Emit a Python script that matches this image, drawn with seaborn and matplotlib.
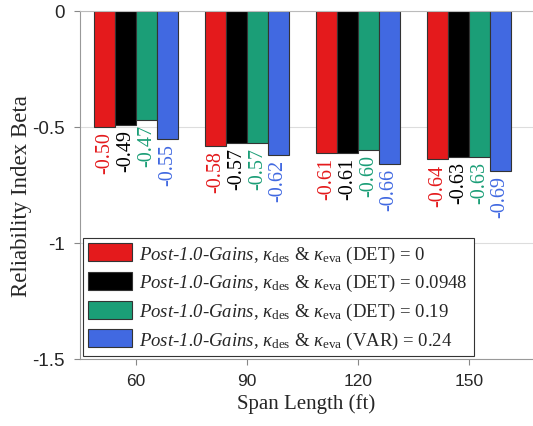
import matplotlib
matplotlib.use("Agg")
import matplotlib.pyplot as plt
import seaborn as sns
import pandas as pd

spans = ["60", "90", "120", "150"]
prefix = r"$\mathsf{Post}$-$\mathsf{1.0}$-$\mathsf{Gains}$, $\kappa_{\rm des}$ & $\kappa_{\rm eva}$ "
series = [
    prefix + "(DET) = 0",
    prefix + "(DET) = 0.0948",
    prefix + "(DET) = 0.19",
    prefix + "(VAR) = 0.24",
]
det0 = [-0.50, -0.58, -0.61, -0.64]
det0948 = [-0.49, -0.57, -0.61, -0.63]
det019 = [-0.47, -0.57, -0.60, -0.63]
var024 = [-0.55, -0.62, -0.66, -0.69]
colors = ["#E41A1C", "#000000", "#1B9E77", "#4169E1"]
yticks = [0, -0.5, -1, -1.5]
ytick_labels = ["0", "-0.5", "-1", "-1.5"]

rows = []
for name, vals in zip(series, [det0, det0948, det019, var024]):
    for s, v in zip(spans, vals):
        rows.append({"span": s, "beta": v, "series": name})
df = pd.DataFrame(rows)

sns.set_style("white")
plt.rcParams["mathtext.fontset"] = "custom"
plt.rcParams["mathtext.rm"] = "Liberation Serif"
plt.rcParams["mathtext.it"] = "Liberation Serif:italic"
plt.rcParams["mathtext.sf"] = "Liberation Serif:italic"
plt.rcParams["mathtext.bf"] = "Liberation Serif:bold"
plt.rcParams["font.family"] = ["Liberation Serif", "DejaVu Sans"]

fig = plt.figure(figsize=(5.33, 4.27), dpi=100)
ax = fig.add_axes([80 / 533, 1 - 360 / 427, 1 - 80 / 533, (360 - 12) / 427])

sns.barplot(data=df, x="span", y="beta", hue="series", order=spans,
            hue_order=series, palette=colors, width=0.75, saturation=1,
            edgecolor="#333333", linewidth=0.8, ax=ax, zorder=2)

for cont, col in zip(ax.containers, colors):
    ax.bar_label(cont, labels=[f"{v:.2f}" for v in cont.datavalues],
                 rotation=90, color=col, padding=3, fontsize=14.5,
                 family="Liberation Serif")

ax.set_ylim(-1.5, 0)
ax.set_xlim(-0.505, 3.577)
ax.set_yticks(yticks)
ax.set_yticklabels(ytick_labels, family="Liberation Sans", fontsize=13.5)
ax.set_xticks(range(len(spans)))
ax.set_xticklabels(spans, family="Liberation Sans", fontsize=12.5)
ax.yaxis.grid(True, color="#DDDDDD", lw=0.8, zorder=0)
ax.set_axisbelow(True)
ax.tick_params(axis="both", which="both", length=4, width=0.8, color="#888888",
               direction="out", bottom=True, left=True)
ax.tick_params(axis="y", pad=7)
ax.tick_params(axis="x", pad=6)
for side in ["left", "bottom", "top"]:
    ax.spines[side].set_visible(True)
    ax.spines[side].set_color("#999999")
    ax.spines[side].set_linewidth(0.8)
ax.spines["right"].set_visible(False)
ax.spines["top"].set_color("#BBBBBB")

ax.set_xlabel("Span Length (ft)", fontsize=15, family="Liberation Serif", labelpad=4)
ax.set_ylabel("Reliability Index Beta", fontsize=16.5, family="Liberation Serif")
ax.yaxis.set_label_coords(-0.106, 0.471)

leg = ax.legend(loc="lower left", bbox_to_anchor=(0, 0), borderaxespad=0.15,
                fontsize=13.5, frameon=True, fancybox=False, edgecolor="#333333",
                framealpha=1, handlelength=2.3, handleheight=1.1,
                labelspacing=0.38, handletextpad=0.42, borderpad=0.3)
leg.get_frame().set_linewidth(0.8)
leg.set_title(None)

fig.savefig("out.png", dpi=100)
